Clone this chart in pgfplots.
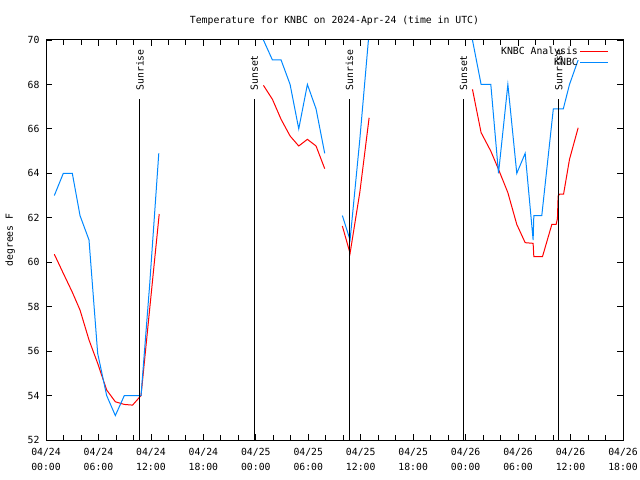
\documentclass[border=0pt]{standalone}
\usepackage{pgfplots}
\pgfplotsset{compat=1.18}
\usepackage{fontspec}
\setmainfont{DejaVu Sans Mono}
\definecolor{obsblue}{RGB}{0,136,255}
\definecolor{anared}{RGB}{255,0,0}
\newcommand\gf{\fontsize{9.8bp}{15bp}\selectfont}
\begin{document}
\begin{tikzpicture}
\useasboundingbox (0,0) rectangle (640bp,480bp);
\begin{axis}[
  at={(46bp,40bp)}, anchor=south west,
  scale only axis, width=577bp, height=400bp,
  xmin=0, xmax=66, ymin=52, ymax=70,
  xtick={0,6,...,66},
  xticklabels={{04/24\\00:00},{04/24\\06:00},{04/24\\12:00},{04/24\\18:00},{04/25\\00:00},{04/25\\06:00},{04/25\\12:00},{04/25\\18:00},{04/26\\00:00},{04/26\\06:00},{04/26\\12:00},{04/26\\18:00}},
  minor x tick num=2,
  ytick={52,54,...,70},
  tick align=inside,
  major tick length=6bp, minor tick length=5bp,
  tick style={black, line width=0.8bp},
  axis line style={line width=1bp},
  xticklabel style={align=center, font=\gf, yshift=-5bp},
  yticklabel style={font=\gf, xshift=-3bp},
  /pgf/number format/assume math mode=true,
  title={Temperature for KNBC on 2024-Apr-24 (time in UTC)},
  title style={font=\gf, at={(0.5,1)}, anchor=south, yshift=5bp},
  ylabel={degrees F},
  ylabel style={font=\gf, at={(axis description cs:-0.062,0.5)}, anchor=center},
  unbounded coords=jump,
  legend plot pos=right,
  legend cell align=right,
  legend image code/.code={\draw[#1] (0bp,0bp) -- (28bp,0bp);},
  legend style={draw=none, fill=none, font=\gf, at={(axis cs:64.4,69.8)}, anchor=north east, inner sep=0pt, row sep=-1.5bp},
]
% KNBC Analysis
\addplot[anared, line width=1bp] coordinates {
(0.95,60.36) (1.98,59.5) (3.01,58.65) (3.89,57.85) (4.92,56.5) (5.91,55.45) (6.94,54.25) (7.93,53.72) (8.96,53.6) (9.9,53.57) (10.87,54.0) (11.86,57.9) (12.95,62.17)
(18,nan)
(24.87,67.96) (25.9,67.33) (26.89,66.43) (27.92,65.68) (28.91,65.23) (29.9,65.53) (30.89,65.23) (31.88,64.21)
(33,nan)
(33.9,61.63) (34.78,60.4) (35.89,63.13) (36.96,66.5)
(42,nan)
(48.78,67.78) (49.77,65.83) (50.88,65.0) (51.76,64.18) (52.83,63.13) (53.85,61.7) (54.81,60.88) (55.72,60.85) (55.80,60.25) (56.79,60.25) (57.86,61.7) (58.35,61.7) (58.5,61.96) (58.58,62.98) (58.74,63.06) (59.2,63.06) (59.88,64.63) (60.87,66.05)
};
\addlegendentry{KNBC Analysis}
% KNBC observations
\addplot[obsblue, line width=1bp] coordinates {
(0.95,63.0) (1.98,64.0) (3.01,64.0) (3.89,62.1) (4.92,61.0) (5.91,55.9) (6.94,54.0) (7.93,53.1) (8.96,54.0) (9.9,54.0) (10.87,54.0) (11.86,59.0) (12.9,64.9)
(18,nan)
(24.87,70.0) (25.9,69.1) (26.89,69.1) (27.92,68.0) (28.91,66.0) (29.9,68.0) (30.89,66.9) (31.88,64.9)
(33,nan)
(33.9,62.1) (34.78,61.0) (35.89,65.5) (36.88,70.0)
(42,nan)
(48.78,70.0) (49.77,68.0) (50.88,68.0) (51.76,64.0) (52.83,68.0) (53.85,64.0) (54.81,64.9) (55.72,61.0) (55.80,62.1) (56.71,62.1) (58.03,66.9) (59.17,66.9) (59.88,68.0) (60.87,69.1)
};
\addlegendentry{KNBC}
% sunrise / sunset markers
\addplot[black, line width=1bp, forget plot] coordinates {(10.75,52) (10.75,67.33)};
\addplot[black, line width=1bp, forget plot] coordinates {(23.84,52) (23.84,67.33)};
\addplot[black, line width=1bp, forget plot] coordinates {(34.7,52) (34.7,67.33)};
\addplot[black, line width=1bp, forget plot] coordinates {(47.75,52) (47.75,67.33)};
\addplot[black, line width=1bp, forget plot] coordinates {(58.66,52) (58.66,67.33)};
\node[rotate=90, anchor=west, font=\gf, inner sep=0pt, xshift=1bp] at (axis cs:10.75,67.67) {Sunrise};
\node[rotate=90, anchor=west, font=\gf, inner sep=0pt, xshift=1bp] at (axis cs:23.84,67.67) {Sunset};
\node[rotate=90, anchor=west, font=\gf, inner sep=0pt, xshift=1bp] at (axis cs:34.7,67.67) {Sunrise};
\node[rotate=90, anchor=west, font=\gf, inner sep=0pt, xshift=1bp] at (axis cs:47.75,67.67) {Sunset};
\node[rotate=90, anchor=west, font=\gf, inner sep=0pt, xshift=1bp] at (axis cs:58.66,67.67) {Sunrise};
\end{axis}
\end{tikzpicture}
\end{document}
